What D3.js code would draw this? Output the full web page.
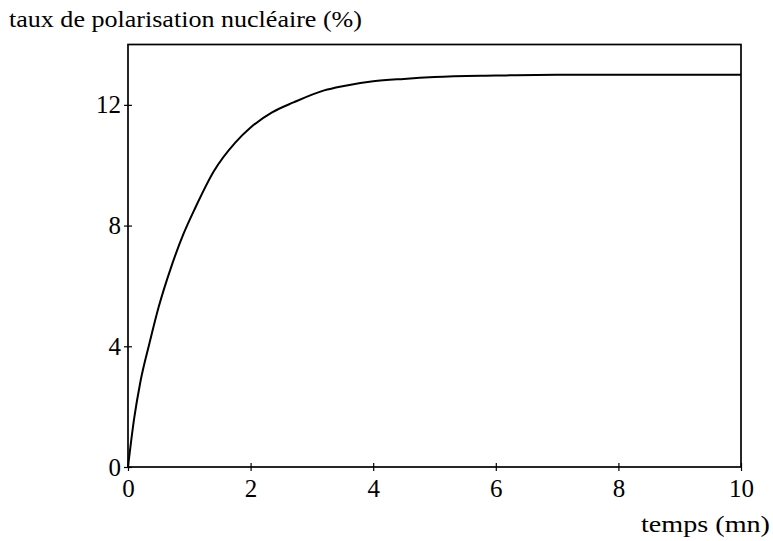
<!DOCTYPE html>
<html>
<head>
<meta charset="utf-8">
<script src="https://cdn.jsdelivr.net/npm/d3@7"></script>
<style>
  body { margin: 0; background: #fff; }
</style>
</head>
<body>
<div id="chart"></div>
<script>
// temps (mn) and taux de polarisation (%)
var temps = [0, 0.1, 0.2, 0.35, 0.5, 0.7, 0.9, 1.1, 1.4, 1.75, 2.0, 2.35, 2.7, 3.2, 3.5, 4.0, 4.5, 5.0, 6.0, 7.0, 8.5, 10];
var taux = [0, 1.6, 2.8, 4.1, 5.3, 6.6, 7.7, 8.6, 9.8, 10.75, 11.25, 11.75, 12.08, 12.48, 12.62, 12.78, 12.86, 12.92, 12.97, 13.0, 13.0, 13.0];
var xTicks = [0, 2, 4, 6, 8, 10];
var yTicks = [0, 4, 8, 12];

var FONT = "Liberation Serif";
var W = 773, H = 541;
var margin = { top: 44.5, right: 32, bottom: 74, left: 128 },
    width = W - margin.left - margin.right,
    height = H - margin.top - margin.bottom;

var svg = d3.select("#chart")
    .append("svg")
    .attr("width", W)
    .attr("height", H);

var g = svg.append("g")
    .attr("transform", "translate(" + margin.left + "," + margin.top + ")");

var x = d3.scaleLinear().domain([0, 10]).range([0, width]);
var y = d3.scaleLinear().domain([0, 14]).range([height, 0]);

// frame
g.append("rect")
    .attr("x", 0).attr("y", 0)
    .attr("width", width).attr("height", height)
    .attr("fill", "none")
    .attr("stroke", "#000")
    .attr("stroke-width", 1.7);

// X axis: ticks crossing the line
var xAxis = g.append("g")
    .attr("transform", "translate(0," + height + ")")
    .call(d3.axisBottom(x).tickValues(xTicks).tickSize(4).tickPadding(8).tickFormat(d3.format("d")));
xAxis.select(".domain").remove();
xAxis.selectAll(".tick line").attr("y1", -4).attr("stroke-width", 1.2);
xAxis.selectAll("text").style("font-size", "25px").style("font-family", FONT);

// Y axis
var yAxis = g.append("g")
    .call(d3.axisLeft(y).tickValues(yTicks).tickSize(4).tickPadding(3).tickFormat(d3.format("d")));
yAxis.select(".domain").remove();
yAxis.selectAll(".tick line").attr("x1", 4).attr("x2", -4).attr("stroke-width", 1.2);
yAxis.selectAll("text").style("font-size", "25px").style("font-family", FONT);

// curve
var pts = temps.map(function (t, i) { return [t, taux[i]]; });
g.append("path")
    .datum(pts)
    .attr("fill", "none")
    .attr("stroke", "#000")
    .attr("stroke-width", 2)
    .attr("d", d3.line()
        .x(function (d) { return x(d[0]); })
        .y(function (d) { return y(d[1]); })
        .curve(d3.curveMonotoneX));

// axis titles
svg.append("text")
    .attr("x", 9)
    .attr("y", 27)
    .attr("textLength", 353)
    .attr("lengthAdjust", "spacingAndGlyphs")
    .style("font-size", "23px")
    .style("font-family", FONT)
    .text("taux de polarisation nucléaire (%)");

svg.append("text")
    .attr("x", 641)
    .attr("y", 532)
    .attr("textLength", 129)
    .attr("lengthAdjust", "spacingAndGlyphs")
    .style("font-size", "23px")
    .style("font-family", FONT)
    .text("temps (mn)");
</script>
</body>
</html>
